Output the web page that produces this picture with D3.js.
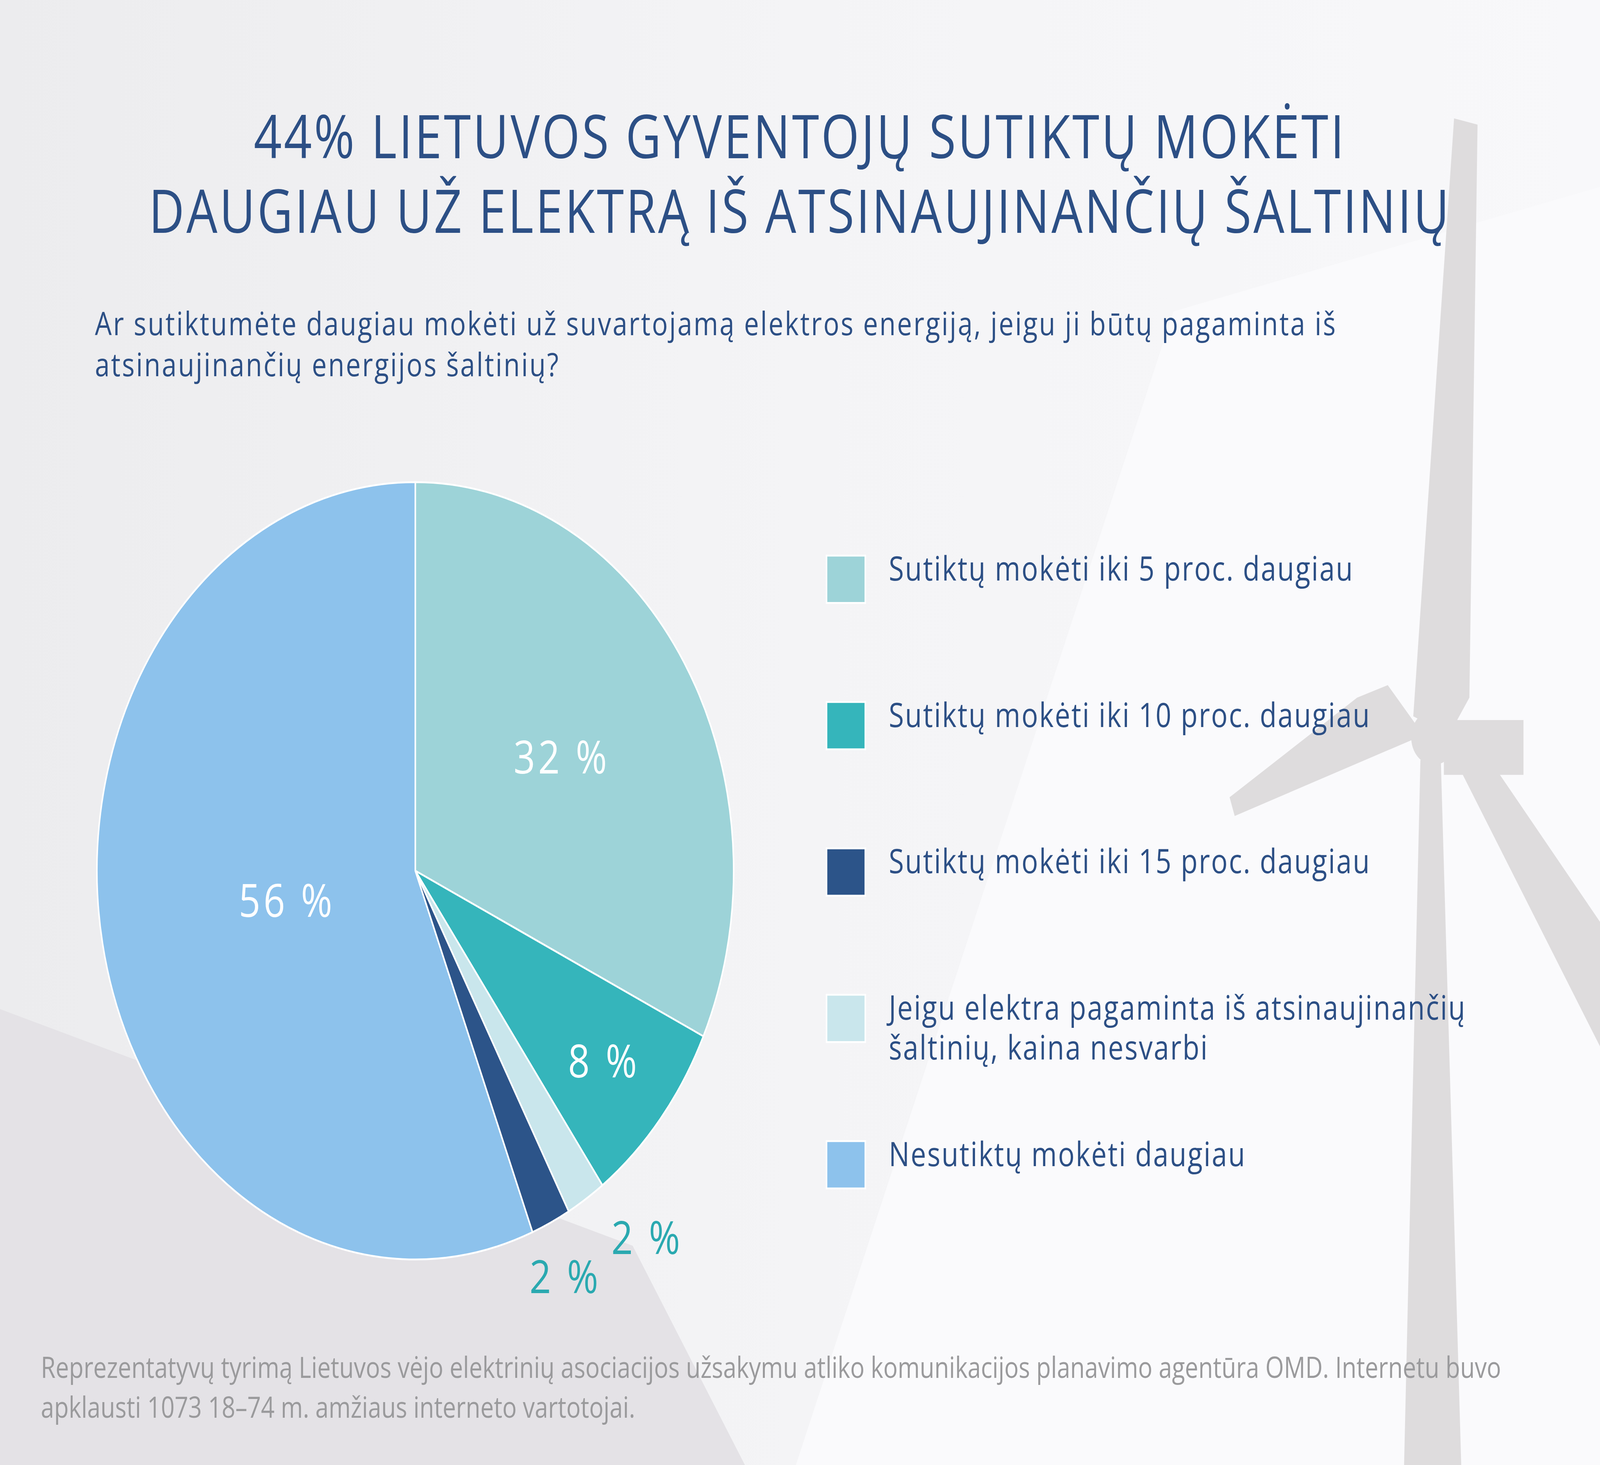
<!DOCTYPE html>
<html><head><meta charset="utf-8">
<script src="https://cdn.jsdelivr.net/npm/d3@7"></script>
<style>html,body{margin:0;padding:0;overflow:hidden;width:100%;height:100%}svg{display:block}text{font-family:"Open Sans","Noto Sans",sans-serif}</style>
</head><body><svg id="chart"></svg>
<script>
// data
const categories = ['Sutiktų mokėti iki 5 proc. daugiau', 'Sutiktų mokėti iki 10 proc. daugiau',
  'Jeigu elektra pagaminta iš atsinaujinančių šaltinių, kaina nesvarbi', 'Sutiktų mokėti iki 15 proc. daugiau',
  'Nesutiktų mokėti daugiau'];
const values = [32, 8, 2, 2, 56];
const colors = ['#9dd3d8', '#35b5bb', '#c9e6ec', '#2c5489', '#8dc2ec'];
const legendOrder = [0, 1, 3, 2, 4];
const legendLines = [['Sutiktų mokėti iki 5 proc. daugiau'], ['Sutiktų mokėti iki 10 proc. daugiau'],
  ['Sutiktų mokėti iki 15 proc. daugiau'], ['Jeigu elektra pagaminta iš atsinaujinančių', 'šaltinių, kaina nesvarbi'],
  ['Nesutiktų mokėti daugiau']];

const W = 1568, H = 1176;
const svg = d3.select('#chart').attr('width', '100vw').attr('height', '100vh')
  .attr('viewBox', `0 0 ${W} ${H}`).attr('preserveAspectRatio', 'none');

// background
const defs = svg.append('defs');
const g1 = defs.append('linearGradient').attr('id', 'bg').attr('x1', 0).attr('y1', 0).attr('x2', 1).attr('y2', 0);
g1.append('stop').attr('offset', 0).attr('stop-color', '#ececee');
g1.append('stop').attr('offset', 0.5).attr('stop-color', '#f4f4f6');
g1.append('stop').attr('offset', 1).attr('stop-color', '#f8f8fa');
svg.append('rect').attr('width', W).attr('height', H).attr('fill', 'url(#bg)');
svg.append('path').attr('d', 'M0,810 L620,1000 L730,1176 L0,1176Z').attr('fill', '#e4e2e6');
svg.append('path').attr('d', 'M1150,250 L1568,150 L1568,1176 L780,1176Z').attr('fill', '#fafafc');
// wind turbine
const tg = svg.append('g').attr('fill', '#dedcdd');
tg.append('path').attr('d', 'M1392,610 L1412,610 L1432,1176 L1376,1176Z');
tg.append('path').attr('d', 'M1385,575 L1425,95 L1448,100 L1440,560 L1420,590Z');
tg.append('path').attr('d', 'M1395,590 L1210,655 L1205,640 L1330,560 L1360,550Z');
tg.append('path').attr('d', 'M1420,600 L1568,840 L1568,740 L1460,610Z');
tg.append('rect').attr('x', 1415).attr('y', 578).attr('width', 78).attr('height', 44);
tg.append('circle').attr('cx', 1405).attr('cy', 592).attr('r', 22);

// titles
const blue = '#2c4f85';
svg.append('text').attr('x', 784).attr('y', 127).attr('text-anchor', 'middle').attr('fill', blue)
  .attr('font-size', 48).attr('letter-spacing', 2).text('44% LIETUVOS GYVENTOJŲ SUTIKTŲ MOKĖTI');
svg.append('text').attr('x', 784).attr('y', 187).attr('text-anchor', 'middle').attr('fill', blue)
  .attr('font-size', 48).attr('letter-spacing', 2).text('DAUGIAU UŽ ELEKTRĄ IŠ ATSINAUJINANČIŲ ŠALTINIŲ');
svg.append('text').attr('x', 93).attr('y', 269).attr('fill', blue).attr('font-size', 26).attr('letter-spacing', 1.4)
  .text('Ar sutiktumėte daugiau mokėti už suvartojamą elektros energiją, jeigu ji būtų pagaminta iš');
svg.append('text').attr('x', 93).attr('y', 302).attr('fill', blue).attr('font-size', 26).attr('letter-spacing', 1.4)
  .text('atsinaujinančių energijos šaltinių?');

// pie
const cx = 407, cy = 699, r = 312;
const pie = d3.pie().sort(null).value(d => d)(values);
const arc = d3.arc().innerRadius(0).outerRadius(r);
const pg = svg.append('g').attr('transform', `translate(${cx},${cy})`);
pg.selectAll('path').data(pie).join('path').attr('d', arc)
  .attr('fill', (d, i) => colors[i]).attr('stroke', '#fff').attr('stroke-width', 1.5);
const labR = [170, 240, 0, 0, 128];
pg.selectAll('text.in').data(pie.filter((d, i) => values[i] > 5)).join('text')
  .attr('transform', d => {
    const R = labR[d.index];
    const c = d3.arc().innerRadius(R).outerRadius(R).centroid(d);
    return `translate(${c[0]},${c[1]})`;
  })
  .attr('dy', '0.35em').attr('text-anchor', 'middle').attr('fill', '#fff').attr('font-size', 37)
  .attr('letter-spacing', 3).text(d => d.data + ' %');
const outArc = [d3.arc().innerRadius(r + 30).outerRadius(r + 30), d3.arc().innerRadius(r + 24).outerRadius(r + 24)];
pg.selectAll('text.out').data(pie.filter((d, i) => values[i] <= 5)).join('text')
  .attr('transform', (d, i) => { const c = outArc[i].centroid(d); return `translate(${c[0] + (i ? 4 : 44)},${c[1] + (i ? 22 : 6)})`; })
  .attr('dy', '0.35em').attr('text-anchor', 'middle').attr('fill', '#2aa9b0').attr('font-size', 37)
  .attr('letter-spacing', 3).text(d => d.data + ' %');

// legend
const ly = d3.scalePoint().domain(d3.range(5)).range([446, 916]);
const lg = svg.append('g').selectAll('g').data(legendOrder).join('g')
  .attr('transform', (d, i) => `translate(810,${ly(i)})`);
lg.append('rect').attr('width', 38).attr('height', 38).attr('fill', d => colors[d])
  .attr('stroke', '#fff').attr('stroke-width', 1.5);
lg.each(function (d, i) {
  const t = d3.select(this).append('text').attr('fill', blue).attr('font-size', 27).attr('letter-spacing', 1.1);
  legendLines[i].forEach((s, k) => t.append('tspan').attr('x', 61).attr('y', 20 + k * 32).text(s));
});

// footnote
svg.append('text').attr('x', 40).attr('y', 1106).attr('fill', '#9a9a9c').attr('font-size', 23.4)
  .text('Reprezentatyvų tyrimą Lietuvos vėjo elektrinių asociacijos užsakymu atliko komunikacijos planavimo agentūra OMD. Internetu buvo');
svg.append('text').attr('x', 40).attr('y', 1138).attr('fill', '#9a9a9c').attr('font-size', 23.4)
  .text('apklausti 1073 18–74 m. amžiaus interneto vartotojai.');
</script></body></html>
